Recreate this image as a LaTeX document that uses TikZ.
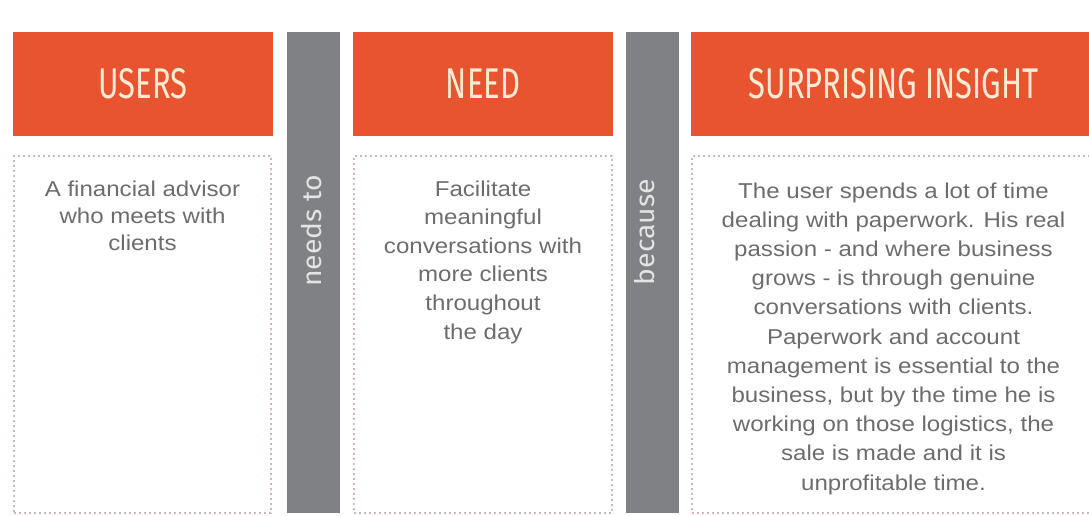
\documentclass[tikz,border=0pt]{standalone}
\usepackage{fontspec}
\usepackage{tikz}
\usetikzlibrary{positioning}
\setmainfont{Liberation Sans}
\newfontfamily\headfont[FakeStretch=0.72]{Fira Sans}
\newfontfamily\linkfont[FakeStretch=1.05]{Fira Sans}
\newfontfamily\bodyfont[FakeStretch=1.12]{Liberation Sans}
\definecolor{headorange}{RGB}{231, 84, 47}
\definecolor{headcream}{RGB}{255, 234, 212}
\definecolor{bargray}{RGB}{128, 129, 133}
\definecolor{dotpink}{RGB}{208, 182, 186}
\definecolor{bodygray}{RGB}{108, 108, 108}
\definecolor{linkwhite}{RGB}{228, 228, 228}

\tikzset{
  header/.style={fill=headorange, text=headcream, inner sep=0pt,
    minimum height=104pt, font=\headfont\fontsize{43}{43}\selectfont},
  bodybox/.style={draw=dotpink, line width=1.5pt, dash pattern=on 2.4pt off 2.6pt,
    inner sep=0pt, minimum height=357pt},
  bodytext/.style={text=bodygray, align=center, inner sep=0pt,
    font=\bodyfont\fontsize{21.5}{28.6}\selectfont},
  linkbar/.style={fill=bargray, inner sep=0pt, minimum width=53pt, minimum height=481pt},
  linktext/.style={text=linkwhite, rotate=90, anchor=base, inner sep=0pt,
    font=\linkfont\fontsize{27}{27}\selectfont}
}

\begin{document}
\begin{tikzpicture}[x=1pt, y=-1pt]
\useasboundingbox (0,0) rectangle (1089,516);

% Column headers
\node[header, minimum width=260pt] (usershead) at (143,84) {USERS};
\node[header, minimum width=260pt] (needhead) at (483,84) {NEED};
\node[header, minimum width=405pt] (insighthead) at (893.5,84) {SURPRISING INSIGHT};

% Grey link bars
\node[linkbar] (needsbar) at (313.5,272.5) {};
\node[linkbar] (becausebar) at (652.5,272.5) {};
\node[linktext] (needstext) at (321,231) {needs to};
\node[linktext] (becausetext) at (654,232) {because};

% Dotted boxes
\node[bodybox, minimum width=257pt] (usersbox) at (142.5,334.5) {};
\node[bodybox, minimum width=258pt] (needbox) at (483,334.5) {};
\node[bodybox, minimum width=403pt] (insightbox) at (893.5,334.5) {};

% Box texts
\node[bodytext, below=25pt of usersbox.north, font=\bodyfont\fontsize{21.5}{27}\selectfont]
  (userstext) {A financial advisor\\who meets with\\clients};
\node[bodytext, below=25pt of needbox.north] (needtext)
  {Facilitate\\meaningful\\conversations with\\more clients\\throughout\\the day};
\node[bodytext, below=27pt of insightbox.north, font=\bodyfont\fontsize{21.5}{29.2}\selectfont]
  (insighttext) {The user spends a lot of time\\dealing with paperwork. His real\\passion - and where business\\grows - is through genuine\\conversations with clients.\\Paperwork and account\\management is essential to the\\business, but by the time he is\\working on those logistics, the\\sale is made and it is\\unprofitable time.};

\end{tikzpicture}
\end{document}
